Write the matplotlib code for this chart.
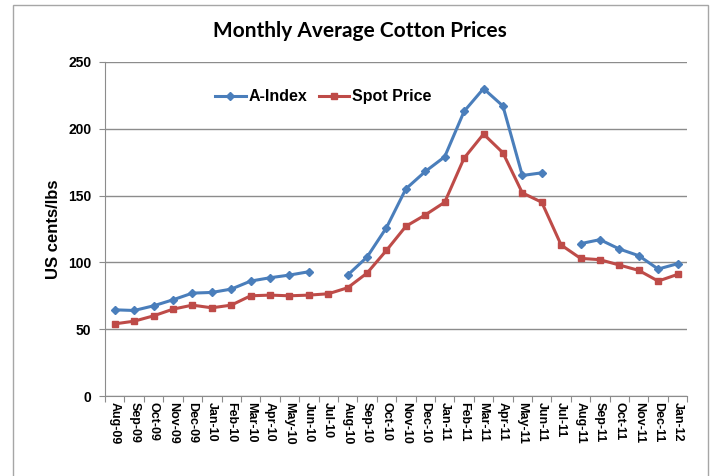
"""Monthly average cotton prices: A-Index vs spot price."""

import matplotlib
matplotlib.use("Agg")
import matplotlib.pyplot as plt
import numpy as np
from matplotlib.patches import Rectangle

months = ["Aug-09", "Sep-09", "Oct-09", "Nov-09", "Dec-09", "Jan-10", "Feb-10",
          "Mar-10", "Apr-10", "May-10", "Jun-10", "Jul-10", "Aug-10", "Sep-10",
          "Oct-10", "Nov-10", "Dec-10", "Jan-11", "Feb-11", "Mar-11", "Apr-11",
          "May-11", "Jun-11", "Jul-11", "Aug-11", "Sep-11", "Oct-11", "Nov-11",
          "Dec-11", "Jan-12"]

a_index = [64.5, 64, 67.5, 72, 77, 77.5, 80, 86, 88.5, 90.5, 93, np.nan,
           90.5, 104, 126, 155, 168, 179, 213, 230, 217, 165, 167, np.nan,
           114, 117, 110, 105, 95, 99]

spot_price = [54, 56, 60, 65, 68, 66, 68, 75, 75.5, 75, 75.5, 76.5,
              81, 92, 109, 127, 135.5, 145, 178, 196, 182, 152, 145, 113,
              103, 102, 98, 94, 86, 91]

BLUE = "#4A7EBB"
RED = "#BE4B48"
GRID = "#8C8C8C"

plt.rcParams["font.family"] = ["Liberation Sans", "DejaVu Sans"]

fig = plt.figure(figsize=(7.10, 4.76), dpi=100)
ax = fig.add_axes([0.148, 0.168, 0.820, 0.702])

# chart area border
fig.patches.append(Rectangle((13 / 710, -0.02), 695 / 710, 1.02 - 5 / 476,
                             transform=fig.transFigure, fill=False,
                             edgecolor="#A6A6A6", linewidth=1.0))

x = np.arange(len(months))
ax.plot(x, a_index, color=BLUE, linewidth=2.2, marker="D", markersize=4.5,
        label="A-Index")
ax.plot(x, spot_price, color=RED, linewidth=2.2, marker="s", markersize=4.5,
        label="Spot Price")

ax.set_xlim(-0.5, len(months) - 0.5)
ax.set_ylim(0, 250)
ax.set_yticks(range(0, 251, 50))
ax.set_xticks(np.arange(-0.5, len(months), 1.0))
ax.set_xticklabels([])
ax.set_xticks(x, minor=True)
ax.set_xticklabels(months, minor=True, rotation=270, fontsize=9,
                   fontweight="bold")
ax.tick_params(axis="x", which="minor", length=0, pad=4)
ax.tick_params(axis="x", which="major", length=4, color=GRID, direction="out")
ax.tick_params(axis="y", length=4, color=GRID, labelsize=10, pad=6)
for lab in ax.get_yticklabels():
    lab.set_fontweight("bold")

ax.grid(axis="y", color=GRID, linewidth=1.0)
ax.set_axisbelow(True)
for side in ("top", "right"):
    ax.spines[side].set_visible(False)
for side in ("left", "bottom"):
    ax.spines[side].set_color(GRID)

ax.set_ylabel("US cents/lbs", fontsize=12, fontweight="bold", labelpad=5)
fig.text(0.507, 0.935, "Monthly Average Cotton Prices", ha="center",
         va="center", fontsize=15, fontweight="bold",
         family=["Lato", "DejaVu Sans"])

ax.legend(loc="center", bbox_to_anchor=(0.375, 0.895), ncol=2, frameon=False,
          prop={"weight": "bold", "size": 11.5}, handlelength=1.9,
          columnspacing=0.7, handletextpad=0.2)

fig.savefig("out.png", dpi=100)
